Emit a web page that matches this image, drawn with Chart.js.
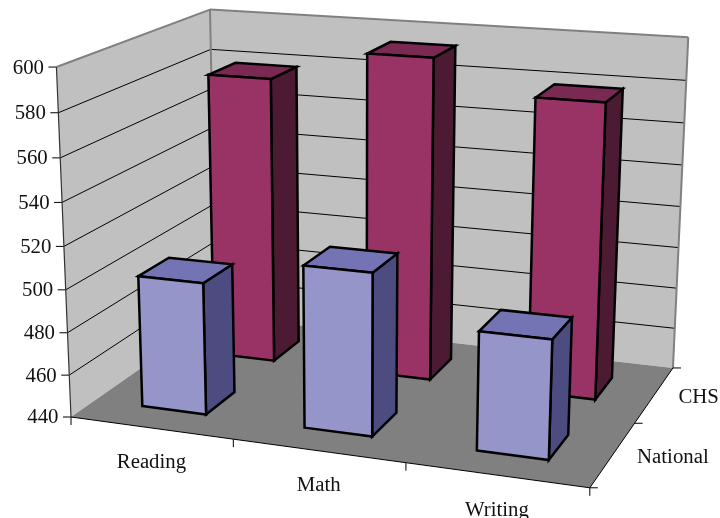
<!DOCTYPE html>
<html>
<head>
<meta charset="utf-8">
<style>
  html, body { margin: 0; background: #fff; }
  canvas { display: block; }
</style>
<script src="https://cdn.jsdelivr.net/npm/chart.js@4"></script>
</head>
<body>
<canvas id="chart" width="720" height="518"></canvas>
<script>
const categories = ['Reading', 'Math', 'Writing'];
const seriesNames = ['National', 'CHS'];
const national = [502, 515, 494];
const chs = [579, 594, 579];
const tickMin = 440, tickMax = 600, tickStep = 20;

// perspective box: front-left-bottom corner, far corner on each axis, vanishing points
const O = [71, 417];
const VU = [-5220, -305], VV = [355, 7238], VW = [1171, -350];
const KU = -0.0893, KV = -0.0488, KW = 0.152;

function P(u, v, w) {
  const a = u * KU, b = v * KV, c = w * KW, d = 1 + a + b + c;
  return [
    (O[0] + a * VU[0] + b * VV[0] + c * VW[0]) / d,
    (O[1] + a * VU[1] + b * VV[1] + c * VW[1]) / d
  ];
}

function poly(ctx, pts, fill, stroke, lw) {
  ctx.beginPath();
  pts.forEach((p, i) => i ? ctx.lineTo(p[0], p[1]) : ctx.moveTo(p[0], p[1]));
  ctx.closePath();
  if (fill) { ctx.fillStyle = fill; ctx.fill(); }
  if (stroke) { ctx.strokeStyle = stroke; ctx.lineWidth = lw; ctx.lineJoin = 'miter'; ctx.stroke(); }
}

function line(ctx, a, b, color, lw) {
  ctx.beginPath();
  ctx.moveTo(a[0], a[1]);
  ctx.lineTo(b[0], b[1]);
  ctx.strokeStyle = color;
  ctx.lineWidth = lw;
  ctx.stroke();
}

const FONT = '20.8px "Liberation Serif", "Times New Roman", serif';
const faces = [
  { front: '#9595C9', top: '#7474B4', side: '#4C4C80' },
  { front: '#993366', top: '#7A2952', side: '#4D1A33' }
];

const box3d = {
  id: 'box3d',
  beforeDatasetsDraw(chart) {
    const ctx = chart.ctx;
    const { x, y, depth } = chart.scales;
    const normU = px => (px - x.left) / x.width;
    const normV = px => (y.bottom - px) / y.height;
    const normW = px => (px - depth.left) / depth.width;

    ctx.save();

    // walls and floor
    poly(ctx, [P(0,0,0), P(0,1,0), P(0,1,1), P(0,0,1)], '#C0C0C0');
    poly(ctx, [P(0,0,1), P(0,1,1), P(1,1,1), P(1,0,1)], '#C0C0C0');
    poly(ctx, [P(0,0,0), P(1,0,0), P(1,0,1), P(0,0,1)], '#808080');

    // gridlines along both walls, with the tick stubs and labels on the front edge
    ctx.font = FONT;
    ctx.textBaseline = 'middle';
    y.ticks.forEach(t => {
      const v = normV(y.getPixelForValue(t.value));
      const a = P(0, v, 0);
      if (t.value < tickMax && t.value > tickMin) {
        line(ctx, a, P(0, v, 1), '#000', 1);
        line(ctx, P(0, v, 1), P(1, v, 1), '#000', 1);
      }
      line(ctx, [a[0] - 8, a[1]], a, '#000', 1);
      ctx.fillStyle = '#111';
      ctx.textAlign = 'right';
      ctx.fillText(String(t.value), a[0] - 12.5, a[1] + 1);
    });

    // wall outline
    line(ctx, P(0,1,0), P(0,1,1), '#808080', 2);
    line(ctx, P(0,1,1), P(1,1,1), '#808080', 2);
    line(ctx, P(0,1,1), P(0,0,1), '#808080', 2);
    line(ctx, P(1,1,1), P(1,0,1), '#808080', 2);
    line(ctx, P(0,0,0), P(0,1,0), '#333', 1.2);

    // floor edges, ticks and category labels
    line(ctx, P(0,0,0), P(1,0,0), '#000', 1);
    line(ctx, P(1,0,0), P(1,0,1), '#000', 1);
    for (let i = 0; i <= categories.length; i++) {
      const p = P(i / categories.length, 0, 0);
      line(ctx, p, [p[0], p[1] + 8], '#000', 1);
    }
    for (let j = 0; j <= seriesNames.length; j++) {
      const p = P(1, 0, j / seriesNames.length);
      line(ctx, p, [p[0] + 8, p[1]], '#000', 1);
    }
    ctx.fillStyle = '#111';
    ctx.textAlign = 'center';
    categories.forEach((c, i) => {
      const p = P(normU(x.getPixelForValue(i)), 0, 0);
      ctx.fillText(c, p[0] + 0.5, p[1] + 35);
    });
    ctx.textAlign = 'left';
    seriesNames.forEach((s, j) => {
      const p = P(1, 0, normW(depth.getPixelForValue(j)));
      ctx.fillText(s, p[0] + 24, p[1] + 3);
    });

    // bars, back row first
    const band = depth.width / seriesNames.length;
    for (let j = seriesNames.length - 1; j >= 0; j--) {
      const meta = chart.getDatasetMeta(j);
      const wc = depth.getPixelForValue(j);
      const w0 = normW(wc - band * 0.2), w1 = normW(wc + band * 0.2);
      const f = faces[j];
      meta.data.forEach(bar => {
        const u0 = normU(bar.x - bar.width / 2), u1 = normU(bar.x + bar.width / 2);
        const v0 = normV(bar.base), v1 = normV(bar.y);
        poly(ctx, [P(u1,v0,w0), P(u1,v1,w0), P(u1,v1,w1), P(u1,v0,w1)], f.side, '#000', 2.5);
        poly(ctx, [P(u0,v1,w0), P(u1,v1,w0), P(u1,v1,w1), P(u0,v1,w1)], f.top, '#000', 2.5);
        poly(ctx, [P(u0,v0,w0), P(u1,v0,w0), P(u1,v1,w0), P(u0,v1,w0)], f.front, '#000', 2.5);
      });
    }

    ctx.restore();
    return false; // the 3D faces above replace the flat bars
  }
};

new Chart(document.getElementById('chart'), {
  type: 'bar',
  data: {
    labels: categories,
    datasets: [
      { label: seriesNames[0], data: national, base: tickMin, grouped: false, barPercentage: 0.4, categoryPercentage: 1 },
      { label: seriesNames[1], data: chs, base: tickMin, grouped: false, barPercentage: 0.4, categoryPercentage: 1 }
    ]
  },
  options: {
    responsive: false,
    animation: false,
    devicePixelRatio: 1,
    plugins: { legend: { display: false }, tooltip: { enabled: false } },
    scales: {
      x: { display: false, offset: true },
      y: { display: false, min: tickMin, max: tickMax, ticks: { stepSize: tickStep } },
      depth: { type: 'category', labels: seriesNames, position: 'bottom', display: false, offset: true }
    }
  },
  plugins: [box3d]
});
</script>
</body>
</html>
